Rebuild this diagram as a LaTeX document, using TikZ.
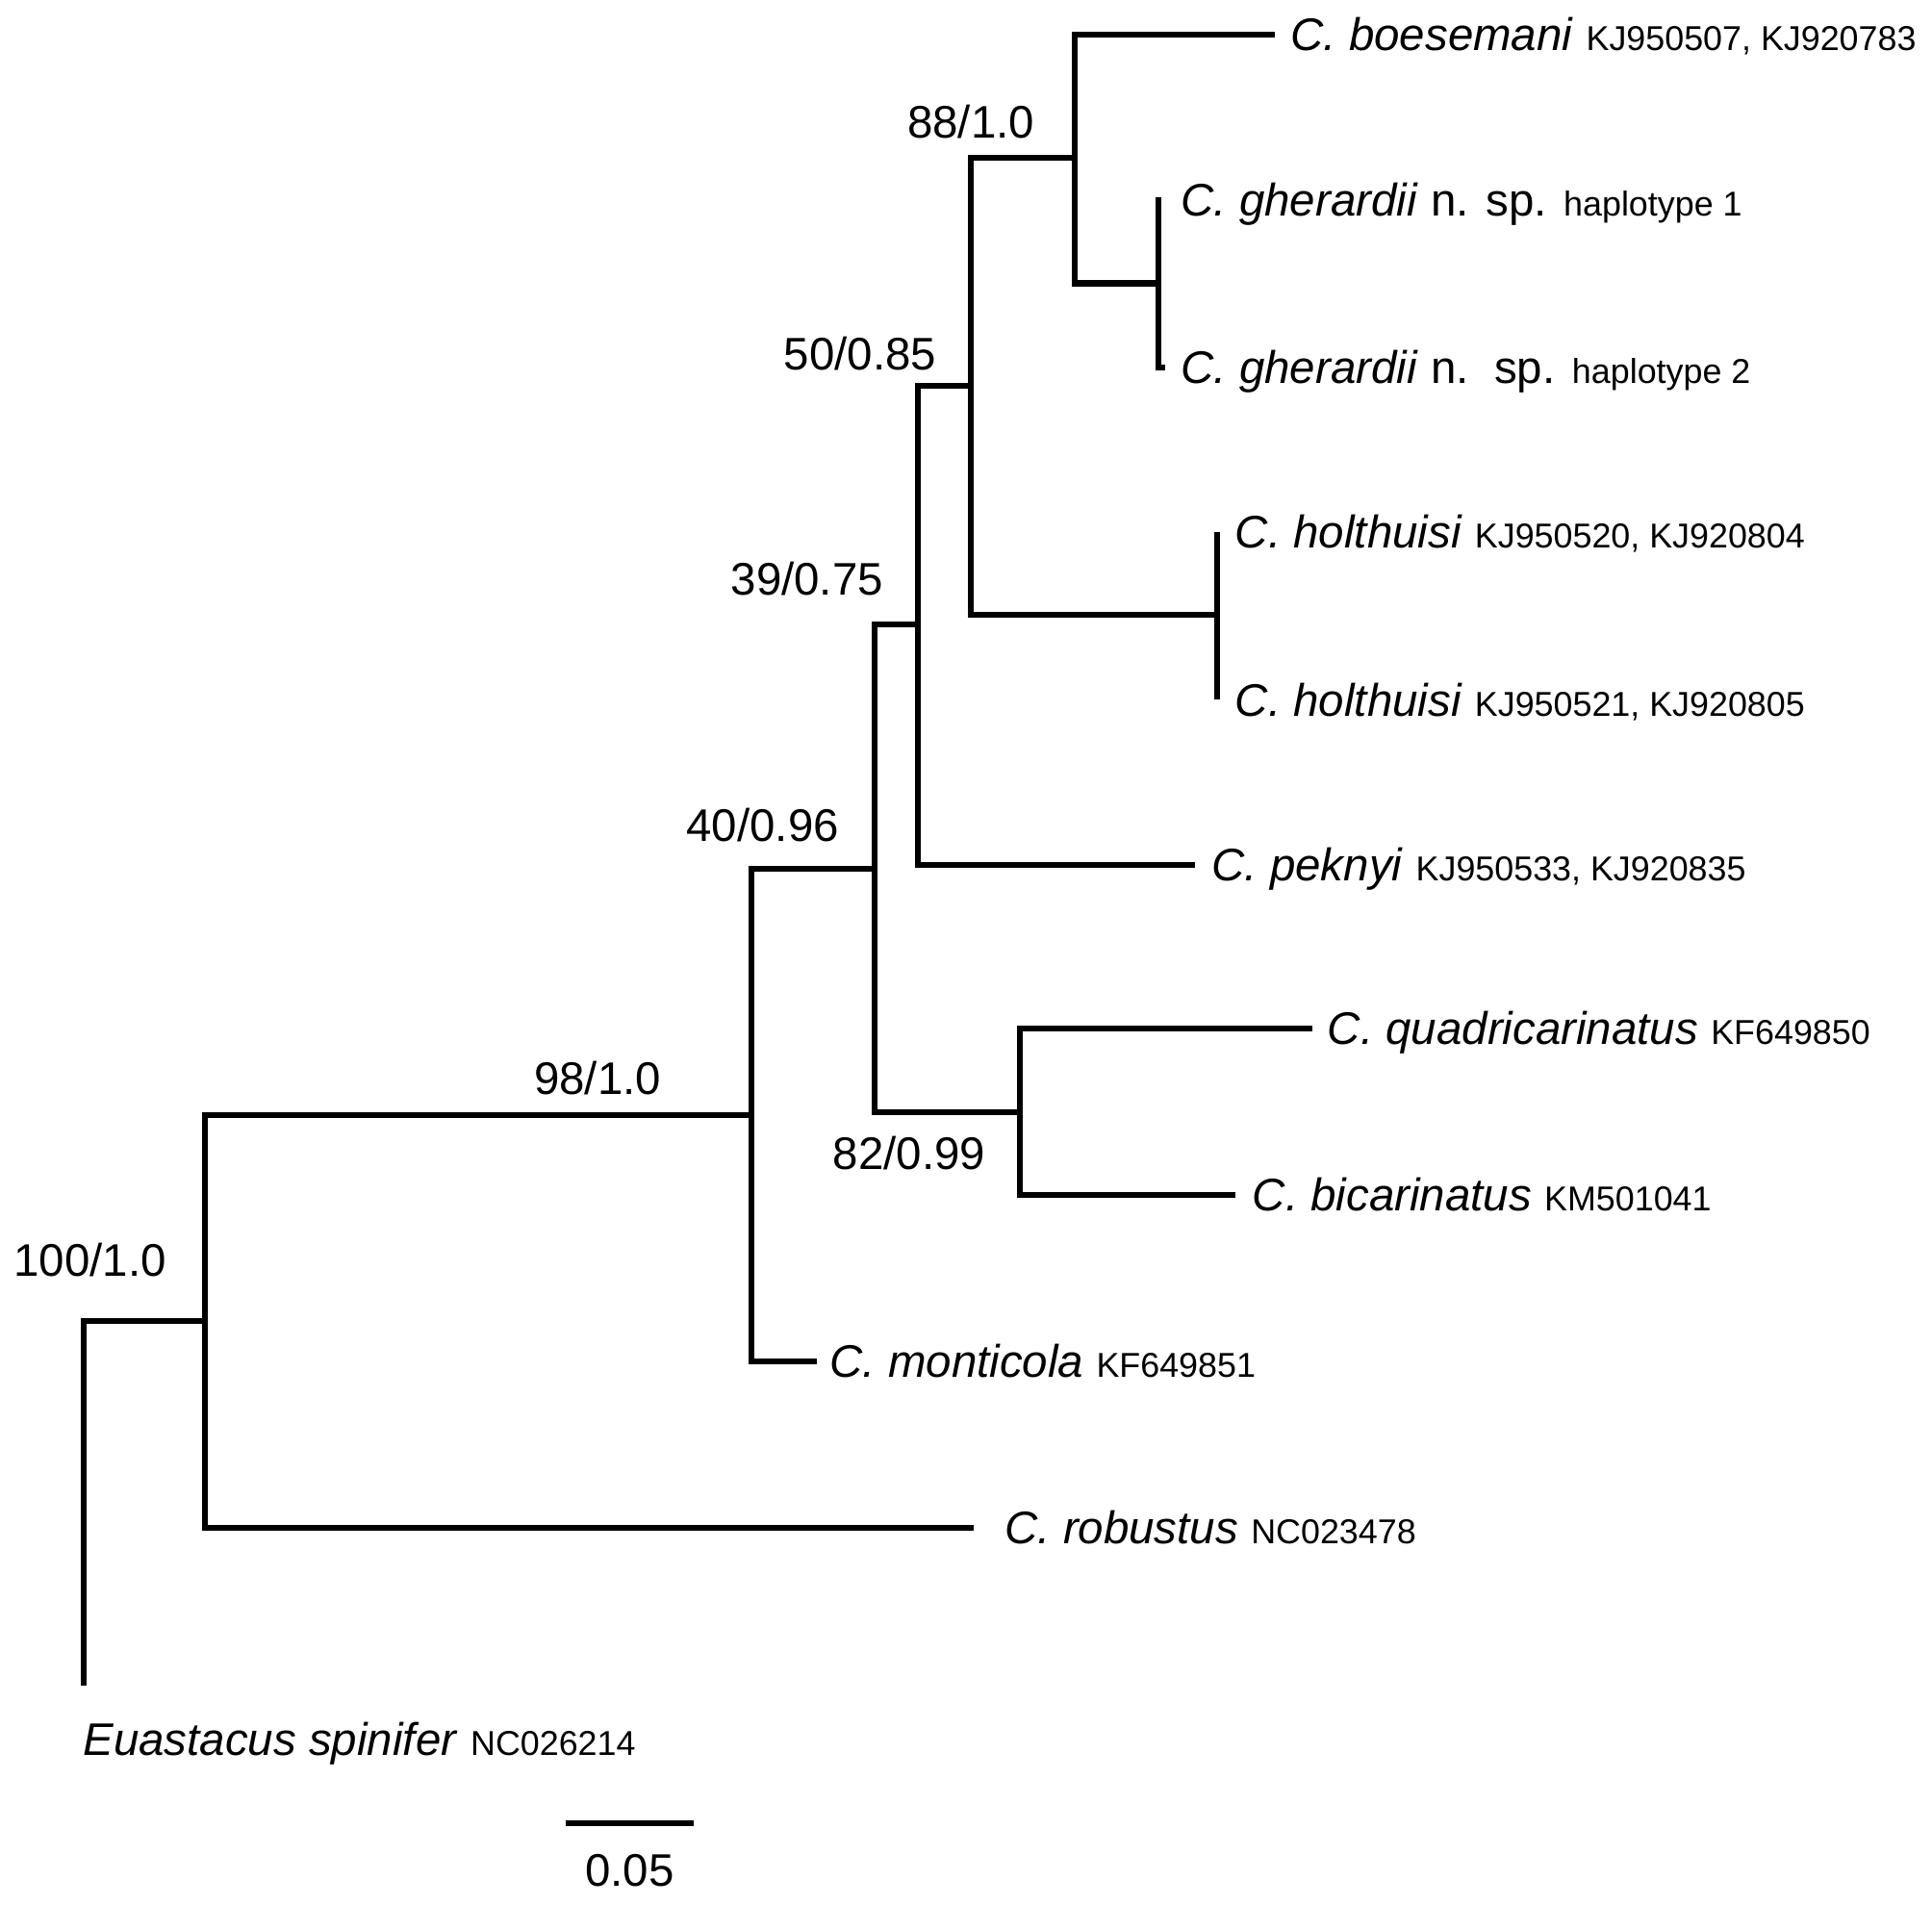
\documentclass[tikz,border=0pt]{standalone}
\usepackage{fontspec}
\setmainfont{Liberation Sans}
\newcommand\accn[1]{{\fontsize{10.2pt}{12pt}\selectfont #1}}
\begin{document}
\begin{tikzpicture}[x=0.012806cm,y=-0.012806cm,
  br/.style={line width=1.75pt, line join=miter},
  tiplab/.style={font=\fontsize{13.5pt}{16pt}\selectfont, inner sep=0pt, anchor=base west},
  suplab/.style={font=\fontsize{13.5pt}{16pt}\selectfont, inner sep=0pt, anchor=base}]
\useasboundingbox (0,0) rectangle (1568,1546);
% internal nodes
\coordinate (root) at (68,1072);
\coordinate (nA) at (166,1072);
\coordinate (nB) at (610,905);
\coordinate (nC) at (710,705);
\coordinate (nE) at (828,903);
\coordinate (nD) at (745,507);
\coordinate (nF) at (788,313);
\coordinate (nG) at (872,128);
\coordinate (nH) at (988,499);
\coordinate (nI) at (940,230);
% tips
\coordinate (tEua) at (68,1368);
\coordinate (tRob) at (790,1240);
\coordinate (tMon) at (663,1105);
\coordinate (tQua) at (1065,835);
\coordinate (tBic) at (1003,970);
\coordinate (tPek) at (970,702);
\coordinate (tHo1) at (988,432);
\coordinate (tHo2) at (988,568);
\coordinate (tBoe) at (1035,28);
\coordinate (tGh1) at (940,160);
\coordinate (tGh2) at (940,298);
\coordinate (tGh2e) at (946,298);
% branches
\draw[br] (nA) -- (root) -- (tEua);
\draw[br] (nA) |- (nB);
\draw[br] (nA) |- (tRob);
\draw[br] (nB) |- (nC);
\draw[br] (nB) |- (tMon);
\draw[br] (nC) |- (nD);
\draw[br] (nC) |- (nE);
\draw[br] (nE) |- (tQua);
\draw[br] (nE) |- (tBic);
\draw[br] (nD) |- (nF);
\draw[br] (nD) |- (tPek);
\draw[br] (nF) |- (nG);
\draw[br] (nF) |- (nH);
\draw[br] (tHo1) -- (tHo2);
\draw[br] (nG) |- (tBoe);
\draw[br] (nG) |- (nI);
\draw[br] (tGh1) -- (tGh2) -- (tGh2e);
% tip labels
\node[tiplab] (lBoe) at (1047,41) {\textit{C. boesemani} \accn{KJ950507, KJ920783}};
\node[tiplab] (lGh1) at (958,175) {\textit{C. gherardii} n. sp. \accn{haplotype 1}};
\node[tiplab] (lGh2) at (958,311) {\textit{C. gherardii} n.\ \ sp. \accn{haplotype 2}};
\node[tiplab] (lHo1) at (1002,445) {\textit{C. holthuisi} \accn{KJ950520, KJ920804}};
\node[tiplab] (lHo2) at (1002,581) {\textit{C. holthuisi} \accn{KJ950521, KJ920805}};
\node[tiplab] (lPek) at (983,715) {\textit{C. peknyi} \accn{KJ950533, KJ920835}};
\node[tiplab] (lQua) at (1077,848) {\textit{C. quadricarinatus} \accn{KF649850}};
\node[tiplab] (lBic) at (1016,983) {\textit{C. bicarinatus} \accn{KM501041}};
\node[tiplab] (lMon) at (673,1118) {\textit{C. monticola} \accn{KF649851}};
\node[tiplab] (lRob) at (815,1253) {\textit{C. robustus} \accn{NC023478}};
\node[tiplab] (lEua) at (67,1425) {\textit{Euastacus spinifer} \accn{NC026214}};
% support labels
\node[suplab] (s88) at (788,112) {88/1.0};
\node[suplab] (s50) at (698,300) {50/0.85};
\node[suplab] (s39) at (655,483) {39/0.75};
\node[suplab] (s40) at (619,683) {40/0.96};
\node[suplab] (s98) at (485,888) {98/1.0};
\node[suplab] (s82) at (738,949) {82/0.99};
\node[suplab] (s100) at (73,1036) {100/1.0};
% scale bar
\coordinate (sb1) at (459,1480);
\coordinate (sb2) at (563,1480);
\draw[br] (sb1) -- (sb2);
\node[suplab] (sbl) at (511,1531) {0.05};
\end{tikzpicture}
\end{document}
